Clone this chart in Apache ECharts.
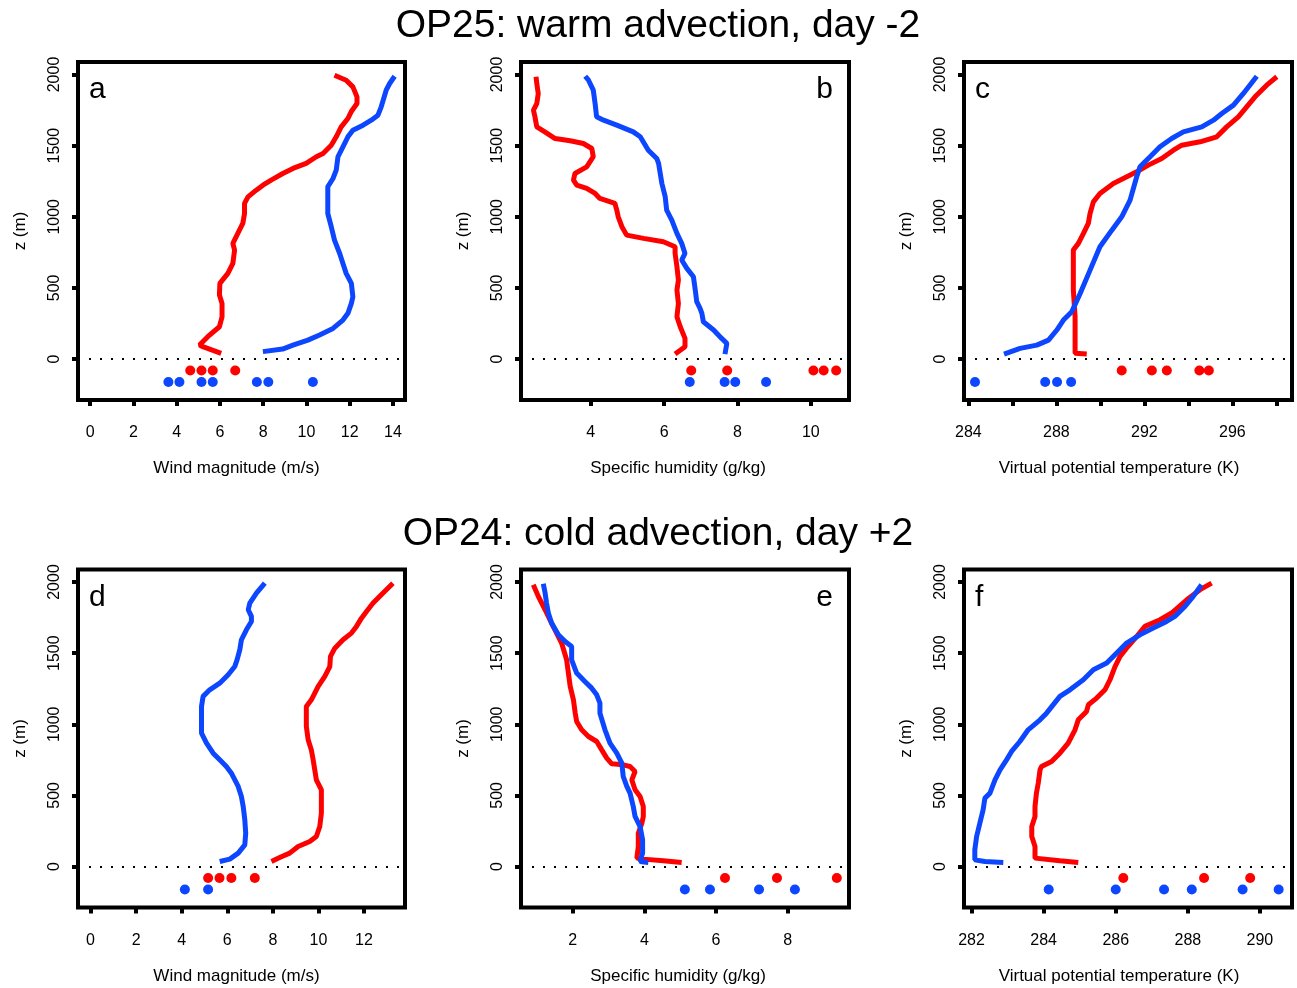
<!DOCTYPE html>
<html>
<head>
<meta charset="utf-8">
<script src="https://cdn.jsdelivr.net/npm/echarts@6.0.0/dist/echarts.min.js"></script>
<style>
  html, body { margin: 0; padding: 0; background: #fff; }
  #profiles { width: 1297px; height: 988px; }
</style>
</head>
<body>
<div id="profiles"></div>
<script>
// ---- data: each profile is a list of [value, z (m)] ----
// OP25, warm advection, day -2
var windWarmRed = [[6.06,40],[5.21,87],[5.06,98],[5.44,157],[5.98,227],[6.1,297],[6.1,391],[5.98,450],[6.0,532],[6.37,602],[6.6,672],[6.68,766],[6.6,813],[6.83,883],[7.06,953],[7.14,1023],[7.14,1094],[7.3,1140],[7.68,1187],[7.99,1222],[8.37,1258],[8.91,1304],[9.38,1340],[9.99,1375],[10.46,1422],[10.77,1445],[11.15,1503],[11.38,1562],[11.61,1632],[11.92,1691],[12.07,1738],[12.34,1796],[12.34,1843],[12.15,1913],[11.84,1960],[11.3,1995]];
var windWarmBlue = [[7.99,52],[8.9,70],[9.38,98],[10.07,133],[10.61,169],[11.23,215],[11.69,274],[11.92,321],[12.08,391],[12.15,438],[12.08,532],[11.84,602],[11.69,672],[11.54,742],[11.3,836],[11.15,930],[10.99,1023],[10.99,1117],[10.99,1211],[11.23,1269],[11.38,1328],[11.46,1422],[11.69,1492],[11.92,1562],[12.15,1609],[12.62,1644],[13.0,1679],[13.31,1714],[13.46,1773],[13.69,1890],[13.85,1937],[14.08,1988]];
var windWarmRedDots = [4.63, 5.15, 5.67, 6.71];
var windWarmBlueDots = [3.62, 4.13, 5.15, 5.67, 7.71, 8.24, 10.30];

var humWarmRed = [[6.30,35],[6.57,87],[6.57,145],[6.44,227],[6.35,297],[6.39,391],[6.35,485],[6.39,555],[6.35,649],[6.30,742],[6.30,789],[5.98,824],[5.44,848],[4.98,871],[4.85,930],[4.75,1000],[4.71,1047],[4.66,1094],[4.25,1129],[4.12,1164],[3.89,1199],[3.62,1222],[3.53,1258],[3.57,1304],[3.89,1351],[4.07,1422],[4.03,1480],[3.80,1515],[3.44,1534],[3.03,1550],[2.75,1597],[2.53,1632],[2.48,1703],[2.44,1749],[2.53,1796],[2.57,1866],[2.53,1937],[2.51,1984]];
var humWarmBlue = [[7.66,35],[7.71,110],[7.57,145],[7.35,204],[7.07,262],[7.03,321],[6.98,356],[6.89,403],[6.85,485],[6.80,578],[6.62,637],[6.48,696],[6.57,742],[6.48,813],[6.35,883],[6.21,977],[6.07,1047],[6.03,1141],[5.94,1234],[5.85,1375],[5.80,1410],[5.57,1468],[5.35,1562],[5.16,1597],[4.71,1644],[4.35,1679],[4.16,1703],[4.12,1796],[4.07,1890],[3.94,1960],[3.85,1988]];
var humWarmRedDots = [6.74, 7.72, 10.07, 10.35, 10.69];
var humWarmBlueDots = [6.70, 7.65, 7.94, 8.78];

var thetaWarmRed = [[289.38,35],[288.85,40],[288.85,133],[288.85,297],[288.77,485],[288.77,766],[289.0,813],[289.23,883],[289.45,953],[289.53,1023],[289.68,1105],[289.98,1164],[290.59,1234],[291.20,1281],[291.65,1316],[292.18,1363],[292.79,1410],[293.32,1468],[293.70,1503],[294.53,1527],[295.29,1562],[295.74,1632],[296.27,1703],[296.65,1773],[297.03,1843],[297.56,1925],[298.02,1984]];
var thetaWarmBlue = [[285.62,35],[286.35,75],[287.11,98],[287.64,133],[288.02,204],[288.32,274],[288.70,333],[289.08,461],[289.53,625],[289.98,789],[290.52,906],[290.97,1000],[291.35,1117],[291.65,1281],[291.80,1351],[292.26,1422],[292.71,1492],[293.24,1550],[293.77,1597],[294.61,1632],[295.14,1679],[295.52,1726],[296.05,1785],[296.50,1867],[297.11,1988]];
var thetaWarmRedDots = [290.97, 292.34, 293.02, 294.50, 294.93];
var thetaWarmBlueDots = [284.30, 287.49, 288.03, 288.67];

// OP24, cold advection, day +2
var windColdRed = [[7.94,35],[8.30,63],[8.74,94],[9.11,141],[9.62,176],[9.91,211],[10.06,281],[10.13,375],[10.13,469],[10.13,539],[9.91,609],[9.84,680],[9.77,750],[9.69,820],[9.55,891],[9.47,985],[9.47,1078],[9.47,1125],[9.69,1172],[9.84,1219],[9.99,1266],[10.28,1336],[10.50,1406],[10.53,1477],[10.72,1535],[11.08,1594],[11.45,1641],[11.67,1688],[11.89,1746],[12.11,1793],[12.40,1852],[12.76,1911],[13.27,1992]];
var windColdBlue = [[5.67,35],[6.11,52],[6.48,94],[6.77,152],[6.81,234],[6.77,328],[6.70,422],[6.62,492],[6.48,563],[6.18,656],[5.96,703],[5.67,750],[5.38,797],[5.09,867],[4.87,938],[4.87,1031],[4.87,1125],[4.94,1196],[5.23,1242],[5.67,1289],[6.04,1348],[6.33,1406],[6.43,1453],[6.55,1524],[6.62,1594],[6.84,1664],[7.06,1723],[7.06,1758],[6.92,1805],[6.99,1852],[7.28,1922],[7.65,1992]];
var windColdRedDots = [5.16, 5.66, 6.18, 7.21];
var windColdBlueDots = [4.14, 5.16];

var humColdRed = [[5.04,28],[4.53,40],[3.97,52],[3.79,59],[3.83,141],[3.83,234],[3.93,305],[3.97,352],[3.97,422],[3.88,492],[3.74,539],[3.65,609],[3.74,668],[3.60,703],[3.41,715],[3.09,722],[2.95,762],[2.81,820],[2.67,879],[2.44,914],[2.25,961],[2.11,1020],[2.07,1078],[2.02,1172],[1.93,1266],[1.88,1360],[1.83,1453],[1.69,1571],[1.55,1641],[1.41,1711],[1.23,1805],[1.04,1899],[0.90,1981]];
var humColdBlue = [[4.11,28],[3.88,35],[3.95,94],[3.95,188],[3.88,281],[3.74,352],[3.69,422],[3.60,516],[3.51,563],[3.41,633],[3.37,727],[3.23,797],[3.04,867],[2.90,961],[2.76,1078],[2.76,1149],[2.67,1207],[2.53,1254],[2.34,1301],[2.11,1360],[1.97,1453],[1.97,1547],[1.79,1582],[1.60,1629],[1.41,1711],[1.32,1782],[1.27,1852],[1.23,1922],[1.18,1988]];
var humColdRedDots = [6.25, 7.70, 9.37];
var humColdBlueDots = [5.13, 5.83, 7.20, 8.20];

var thetaColdRed = [[284.96,28],[284.45,40],[283.76,59],[283.76,141],[283.67,211],[283.67,281],[283.76,352],[283.76,422],[283.80,516],[283.85,586],[283.90,680],[283.94,703],[284.22,738],[284.45,797],[284.68,867],[284.87,961],[284.96,1031],[285.19,1090],[285.24,1137],[285.47,1184],[285.70,1242],[285.84,1313],[285.98,1406],[286.12,1477],[286.30,1535],[286.58,1617],[286.81,1688],[287.23,1735],[287.55,1782],[287.97,1875],[288.34,1946],[288.66,1992]];
var thetaColdBlue = [[282.88,28],[282.37,35],[282.09,47],[282.09,117],[282.14,211],[282.23,305],[282.32,398],[282.37,481],[282.51,516],[282.65,609],[282.79,680],[282.97,750],[283.11,809],[283.34,879],[283.57,961],[283.90,1031],[284.08,1078],[284.45,1196],[284.73,1242],[285.10,1313],[285.38,1383],[285.75,1430],[286.02,1500],[286.30,1571],[286.67,1629],[287.04,1676],[287.41,1723],[287.64,1758],[287.92,1828],[288.15,1899],[288.38,1981]];
var thetaColdRedDots = [286.21, 288.45, 289.73];
var thetaColdBlueDots = [284.14, 286.00, 287.34, 288.11, 289.52, 290.52];

// heights where the surface dots sit
var redDotZ = -80;
var blueDotZ = -162;

// tick values / labels
var zTicks = [0, 500, 1000, 1500, 2000];
var windWarmTicks = [0, 2, 4, 6, 8, 10, 12, 14];
var humWarmTicks = [4, 6, 8, 10];
var thetaWarmTicks = [284, 286, 288, 290, 292, 294, 296, 298];
var thetaWarmLabels = [284, 288, 292, 296];
var windColdTicks = [0, 2, 4, 6, 8, 10, 12];
var humColdTicks = [2, 4, 6, 8];
var thetaColdTicks = [282, 284, 286, 288, 290];

var rowTitles = ['OP25: warm advection, day -2', 'OP24: cold advection, day +2'];

// ---- layout ----
var FONT = '"Liberation Sans", Arial, Helvetica, sans-serif';
var RED = '#ff0000', BLUE = '#0d46ff';
var colLeft = [78, 521, 964], colWidth = [327, 328, 328];
var nameShift = [5, 7, 9]; // x-axis titles sit a bit left of the box centre
var rowTop = [62, 569.5], boxH = 338;

var panels = [
  {row:0, col:0, red:windWarmRed, blue:windWarmBlue, rd:windWarmRedDots, bd:windWarmBlueDots, min:-0.56, max:14.56, ticks:windWarmTicks, labels:windWarmTicks, name:'Wind magnitude (m/s)', letter:'a', right:false},
  {row:0, col:1, red:humWarmRed, blue:humWarmBlue, rd:humWarmRedDots, bd:humWarmBlueDots, min:2.10, max:11.04, ticks:humWarmTicks, labels:humWarmTicks, name:'Specific humidity (g/kg)', letter:'b', right:true},
  {row:0, col:2, red:thetaWarmRed, blue:thetaWarmBlue, rd:thetaWarmRedDots, bd:thetaWarmBlueDots, min:283.80, max:298.71, ticks:thetaWarmTicks, labels:thetaWarmLabels, name:'Virtual potential temperature (K)', letter:'c', right:false},
  {row:1, col:0, red:windColdRed, blue:windColdBlue, rd:windColdRedDots, bd:windColdBlueDots, min:-0.55, max:13.8, ticks:windColdTicks, labels:windColdTicks, name:'Wind magnitude (m/s)', letter:'d', right:false},
  {row:1, col:1, red:humColdRed, blue:humColdBlue, rd:humColdRedDots, bd:humColdBlueDots, min:0.557, max:9.71, ticks:humColdTicks, labels:humColdTicks, name:'Specific humidity (g/kg)', letter:'e', right:true},
  {row:1, col:2, red:thetaColdRed, blue:thetaColdBlue, rd:thetaColdRedDots, bd:thetaColdBlueDots, min:281.79, max:290.89, ticks:thetaColdTicks, labels:thetaColdTicks, name:'Virtual potential temperature (K)', letter:'f', right:false}
];

function plain(v) { return String(v); }

var grids = [], xAxes = [], yAxes = [], series = [], graphics = [];

panels.forEach(function (p, i) {
  grids.push({
    left: colLeft[p.col], top: rowTop[p.row], width: colWidth[p.col], height: boxH,
    show: true, borderColor: '#000', borderWidth: 4, backgroundColor: 'transparent',
    containLabel: false, outerBoundsMode: 'none'
  });
  xAxes.push({
    gridIndex: i, type: 'value', min: p.min, max: p.max,
    axisLine: { show: false, onZero: false },
    splitLine: { show: false },
    axisTick: { show: true, length: 6, lineStyle: { width: 4, color: '#000' }, customValues: p.ticks },
    axisLabel: { customValues: p.labels, formatter: plain, margin: 25, fontSize: 16, color: '#000', fontFamily: FONT },
    name: p.name, nameLocation: 'middle', nameGap: 60,
    nameTextStyle: { fontSize: 17, color: '#000', fontFamily: FONT, padding: [0, 2 * nameShift[p.col], 0, 0] }
  });
  yAxes.push({
    gridIndex: i, type: 'value', min: -288, max: 2088,
    axisLine: { show: false, onZero: false },
    splitLine: { show: false },
    axisTick: { show: true, length: 6, lineStyle: { width: 4, color: '#000' }, customValues: zTicks },
    axisLabel: { customValues: zTicks, formatter: plain, rotate: 90, margin: 15, fontSize: 16, color: '#000', fontFamily: FONT },
    name: 'z (m)', nameLocation: 'middle', nameRotate: 90, nameGap: 49,
    nameTextStyle: { fontSize: 17, color: '#000', fontFamily: FONT }
  });

  series.push({
    type: 'line', xAxisIndex: i, yAxisIndex: i, data: p.red,
    showSymbol: false, lineStyle: { color: RED, width: 5 },
    markLine: {
      silent: true, symbol: ['none', 'none'], label: { show: false },
      lineStyle: { color: '#000', type: [2, 9], width: 2 },
      data: [{ yAxis: 0 }]
    }
  });
  series.push({
    type: 'line', xAxisIndex: i, yAxisIndex: i, data: p.blue,
    showSymbol: false, lineStyle: { color: BLUE, width: 5 }
  });
  series.push({
    type: 'scatter', xAxisIndex: i, yAxisIndex: i, symbolSize: 10,
    itemStyle: { color: RED, opacity: 1 },
    data: p.rd.map(function (v) { return [v, redDotZ]; })
  });
  series.push({
    type: 'scatter', xAxisIndex: i, yAxisIndex: i, symbolSize: 10,
    itemStyle: { color: BLUE, opacity: 1 },
    data: p.bd.map(function (v) { return [v, blueDotZ]; })
  });

  // panel letter
  graphics.push({
    type: 'text',
    x: p.right ? colLeft[p.col] + colWidth[p.col] - 16 : colLeft[p.col] + 11,
    y: rowTop[p.row] + 28,
    style: {
      text: p.letter, fontSize: 30, fontFamily: FONT, fill: '#000',
      align: p.right ? 'right' : 'left', verticalAlign: 'middle'
    }
  });
});

rowTitles.forEach(function (t, r) {
  graphics.push({
    type: 'text', x: 658, y: r === 0 ? 26 : 534,
    style: { text: t, fontSize: 39, fontFamily: FONT, fill: '#000', align: 'center', verticalAlign: 'middle' }
  });
});

var chart = echarts.init(document.getElementById('profiles'));
chart.setOption({
  animation: false,
  backgroundColor: '#fff',
  grid: grids,
  xAxis: xAxes,
  yAxis: yAxes,
  series: series,
  graphic: graphics
});
</script>
</body>
</html>
